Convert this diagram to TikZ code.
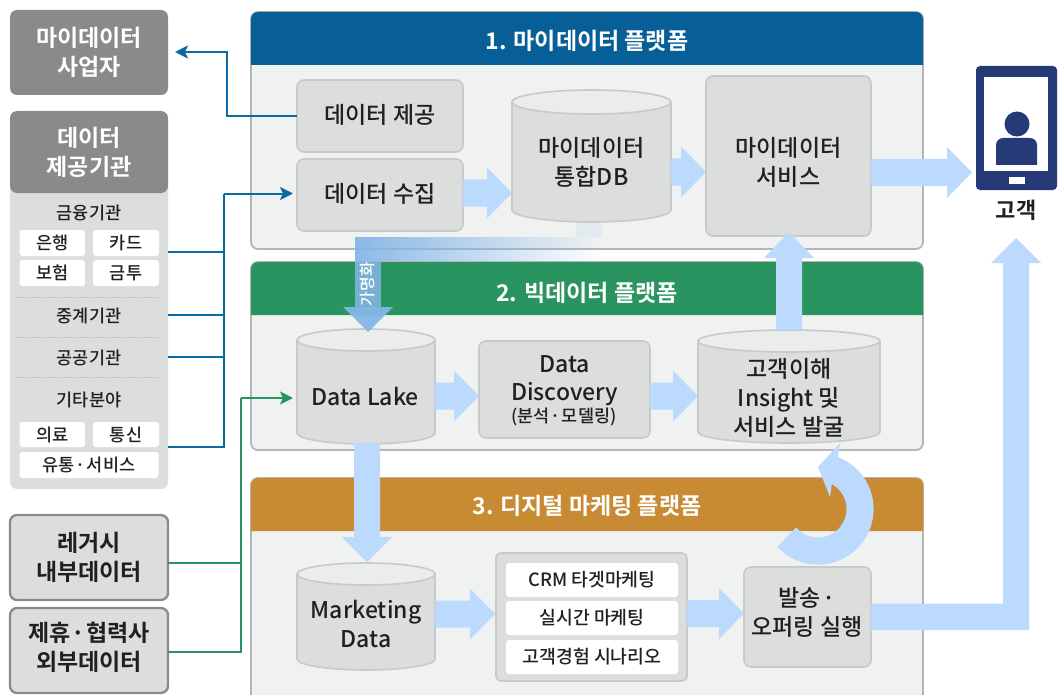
\documentclass[tikz,border=0pt]{standalone}
\usepackage{fontspec}
\setmainfont{Noto Sans CJK KR Medium}
\newfontfamily\kb{Noto Sans CJK KR Bold}
\newfontfamily\km{Noto Sans CJK KR Medium}
\usetikzlibrary{fadings,arrows.meta,calc}
\definecolor{hblue}{HTML}{085E96}
\definecolor{hgreen}{HTML}{2A9461}
\definecolor{hochre}{HTML}{C88B33}
\definecolor{pfill}{HTML}{F0F2F1}
\definecolor{pline}{HTML}{B5B5B5}
\definecolor{ifill}{HTML}{DCDDDD}
\definecolor{iline}{HTML}{C8C9C9}
\definecolor{ctop}{HTML}{EBECEC}
\definecolor{arw}{HTML}{BBDAFE}
\definecolor{gray1}{HTML}{8A8A8A}
\definecolor{navy}{HTML}{263A78}
\definecolor{ink}{HTML}{231F20}
\definecolor{lblue}{HTML}{0B6AA3}
\definecolor{lgreen}{HTML}{2A9461}
\definecolor{pseudo}{HTML}{84B6E6}
\tikzset{
  x=1pt,y=-1pt,
  txt/.style={text=ink,align=center,inner sep=0pt,font=\fontsize{23}{29}\km},
  boldtxt/.style={align=center,inner sep=0pt,font=\fontsize{23}{29}\kb},
  smalltxt/.style={text=ink,align=center,inner sep=0pt,font=\fontsize{17.5}{22}\km},
  chiptxt/.style={fill=white,rounded corners=3pt,text=ink,align=center,inner sep=0pt,font=\fontsize{17.5}{22}\km},
  mchip/.style={chiptxt,font=\fontsize{18.3}{22}\km},
  panel/.style={fill=pfill,draw=pline,line width=1.8pt,rounded corners=7pt},
  inner box/.style={fill=ifill,draw=iline,line width=1.6pt,rounded corners=7pt},
  darkbox/.style={fill=gray1,rounded corners=7pt},
  legbox/.style={fill=ifill,draw=gray1,line width=2.3pt,rounded corners=7pt},
  bigarrow/.style={fill=arw,draw=none},
  link blue/.style={draw=lblue,line width=2pt,-{Stealth[length=13pt,width=13pt,inset=3pt]}},
  link green/.style={draw=lgreen,line width=2pt,-{Stealth[length=13pt,width=13pt,inset=3pt]}},
  plain blue/.style={draw=lblue,line width=2pt},
  plain green/.style={draw=lgreen,line width=2pt},
}
% box by corners: name, x1,y1,x2,y2, style, text
\newcommand{\bx}[7]{\node[#6,anchor=north west,minimum width=#4pt-#2pt,minimum height=#5pt-#3pt,inner sep=0pt,outer sep=0pt,align=center] (#1) at (#2,#3) {#7};}
% cylinder: name, x1,x2,ytop,ybot,ry
\newcommand{\cyl}[6]{%
  \pgfmathsetmacro{\cxm}{(#2+#3)/2}
  \pgfmathsetmacro{\crx}{(#3-#2)/2}
  \pgfmathsetmacro{\ckx}{\crx*0.5523}
  \pgfmathsetmacro{\cky}{#6*0.5523}
  \pgfmathsetmacro{\cyt}{#4+#6}
  \pgfmathsetmacro{\cyb}{#5-#6}
  \path[fill=ifill,draw=iline,line width=1.6pt] (#2,\cyt) -- (#2,\cyb) .. controls (#2,\cyb+\cky) and (\cxm-\ckx,#5) .. (\cxm,#5) .. controls (\cxm+\ckx,#5) and (#3,\cyb+\cky) .. (#3,\cyb) -- (#3,\cyt);
  \path[fill=ctop,draw=iline,line width=1.6pt] (#2,\cyt) .. controls (#2,\cyt-\cky) and (\cxm-\ckx,#4) .. (\cxm,#4) .. controls (\cxm+\ckx,#4) and (#3,\cyt-\cky) .. (#3,\cyt) .. controls (#3,\cyt+\cky) and (\cxm+\ckx,\cyt+#6) .. (\cxm,\cyt+#6) .. controls (\cxm-\ckx,\cyt+#6) and (#2,\cyt+\cky) .. (#2,\cyt) -- cycle;
  \coordinate (#1-w) at (#2,{(#4+#5)/2});
}
% horizontal right-pointing block arrow: x1, x2(tip), yc
\newcommand{\rarrow}[3]{\fill[bigarrow] (#1,#3-13.5) -- (#2-25,#3-13.5) -- (#2-25,#3-25.5) -- (#2,#3) -- (#2-25,#3+25.5) -- (#2-25,#3+13.5) -- (#1,#3+13.5) -- cycle;}
\begin{document}
\begin{tikzpicture}
\useasboundingbox (0,0) rectangle (1059,695);
\clip (0,0) rectangle (1059,695);
\fill[white] (0,0) rectangle (1059,695);

% panels: ytop, yhead, ybot, colour, name, text, ytext
\newcommand{\panelhead}[7]{%
  \draw[panel] (251,#1) rectangle (923,#3);
  \fill[#4] (251,#2) -- (251,#1+7) arc[start angle=180,end angle=90,radius=7pt] -- (916,#1) arc[start angle=90,end angle=0,radius=7pt] -- (923,#2) -- cycle;
  \node[text=white,inner sep=0pt,font=\fontsize{23}{28}\kb] (#5) at (587,#7) {#6};
}
\panelhead{12}{65}{249}{hblue}{t1}{1. 마이데이터 플랫폼}{41}
\panelhead{262}{315}{450}{hgreen}{t2}{2. 빅데이터 플랫폼}{293}
\panelhead{478}{531}{720}{hochre}{t3}{3. 디지털 마케팅 플랫폼}{506}

% fading band (behind the cylinders)
\fill[pseudo,path fading=east,fill opacity=.95] (355,237) -- (602,237) -- (602,261) -- (355,261) -- cycle;
\fill[pseudo,fill opacity=.12] (576,222) rectangle (602,237);
\fill[pseudo,fill opacity=.85] (355,261) rectangle (381,310);

% left column
\bx{biz}{10}{10}{168}{95}{darkbox}{}
\node[boldtxt,text=white] (bizt) at (89,52.5) {마이데이터\\사업자};
\fill[ifill,rounded corners=7pt] (10,150) rectangle (168,489);
\bx{prov}{10}{111}{168}{193}{darkbox}{}
\node[boldtxt,text=white] (provt) at (89,152.5) {데이터\\제공기관};
\node[smalltxt] (fin) at (89,212.5) {금융기관};
\bx{c1}{19.5}{230}{85}{256}{chiptxt}{은행}
\bx{c2}{93}{230}{159}{256}{chiptxt}{카드}
\bx{c3}{19.5}{260}{85}{286}{chiptxt}{보험}
\bx{c4}{93}{260}{159}{286}{chiptxt}{금투}
\draw[pline,line width=.9pt,dash pattern=on 1.6pt off 1.6pt] (17,297) -- (162,297) (17,337) -- (162,337) (17,377) -- (162,377);
\node[smalltxt] (mid) at (89,315.5) {중계기관};
\node[smalltxt] (pub) at (89,357.5) {공공기관};
\node[smalltxt] (etc) at (89,399.5) {기타분야};
\bx{c5}{19.5}{422}{85}{447}{chiptxt}{의료}
\bx{c6}{93}{422}{159}{447}{chiptxt}{통신}
\bx{c7}{19.5}{452}{158.5}{478}{chiptxt}{유통\kern1pt·\kern1pt서비스}
\bx{leg}{10}{515}{168}{600}{legbox}{}
\node[boldtxt,text=ink] (legt) at (89,557) {레거시\\내부데이터};
\bx{ext}{10}{608}{168}{693}{legbox}{}
\node[boldtxt,text=ink] (extt) at (89,647) {제휴\kern1pt·\kern1pt협력사\\외부데이터};

% inner boxes panel 1
\bx{give}{297}{80}{463}{152}{inner box,txt}{}
\node[txt] (givet) at (380,114.5) {데이터 제공};
\bx{coll}{297}{159}{463}{231}{inner box,txt}{}
\node[txt] (collt) at (380,193.5) {데이터 수집};
\bx{svc}{706}{76}{871}{236}{inner box,txt}{}
\node[txt] (svct) at (788.5,162) {마이데이터\\서비스};
\cyl{db}{512}{671}{90}{222}{12}
\node[txt] (dbt) at (591.5,162) {마이데이터\\통합DB};

% inner panel 2
\cyl{lake}{297}{435}{329}{444}{11}
\node[txt] (laket) at (365,396.5) {Data Lake};
\bx{disc}{479}{341}{650}{438}{inner box,txt}{}
\node[txt] (disct) at (564.5,380.5) {Data\\[-1pt]Discovery};
\node[text=ink,inner sep=0pt,font=\fontsize{17.5}{20}\km] (discs) at (564,417) {(분석\kern1pt·\kern1pt모델링)};
\cyl{ins}{698}{880}{330}{443}{11}
\node[txt] (inst) at (789,397.5) {고객이해\\Insight 및\\서비스 발굴};

% inner panel 3
\cyl{mkt}{297}{435}{563}{670}{11}
\node[txt] (mktt) at (366,624) {Marketing\\Data};
\bx{cont}{496}{553}{687}{681}{fill=ifill,draw=iline,line width=1.6pt,rounded corners=5pt}{}
\bx{m1}{506}{563}{678}{597}{mchip}{CRM 타겟마케팅}
\bx{m2}{506}{601}{678}{635}{mchip}{실시간 마케팅}
\bx{m3}{506}{640}{678}{674}{mchip}{고객경험 시나리오}
\bx{send}{744}{567}{871}{667}{inner box,txt}{}
\node[txt] (sendt) at (807,612.5) {발송\kern1pt·\\오퍼링 실행};

% pseudonym arrow head and label
\fill[pseudo,fill opacity=.95] (343,307) -- (393,307) -- (368,332) -- cycle;
\node[text=white,rotate=90,inner sep=0pt,font=\fontsize{16}{18}\selectfont] (pn) at (368,284) {가명화};

% block arrows
\rarrow{463}{512}{193}
\rarrow{671}{706}{172}
\rarrow{871}{972}{172.5}
\rarrow{435}{479}{396}
\rarrow{650}{698}{396}
\rarrow{435}{495}{614}
\rarrow{687}{744}{613.5}
% up arrow
\fill[bigarrow] (776,330) -- (776,258) -- (764,258) -- (789,232) -- (814,258) -- (802,258) -- (802,330) -- cycle;
% down arrow
\fill[bigarrow] (354,443) -- (354,537) -- (342,537) -- (367,562) -- (392,537) -- (380,537) -- (380,443) -- cycle;
% long arrow to customer
\fill[bigarrow] (871,603.5) -- (1003,603.5) -- (1003,263) -- (991,263) -- (1016,238) -- (1041,263) -- (1029,263) -- (1029,630) -- (871,630) -- cycle;
% curved arrow
\fill[bigarrow] plot[domain=223:429,samples=50,smooth] ({818+55.6*cos(\x)},{509-55.6*sin(\x)}) -- (840,443) -- (818,467) -- (830,497) -- (832,483) -- plot[domain=422:220,samples=50,smooth] ({818+28.5*cos(\x)},{509-28.5*sin(\x)}) -- cycle;

% connectors
\coordinate (bluejoin) at (224,193.5);
\draw[link blue,shorten >=7pt] (give.west) -| (227,52) -- (biz.east |- 0,52);
\draw[plain blue] (prov.east |- 0,252) -- (224,252);
\draw[plain blue] (prov.east |- 0,315) -- (224,315);
\draw[plain blue] (prov.east |- 0,357) -- (224,357);
\draw[plain blue,line join=miter] (prov.east |- 0,447) -- (224,447) -- (bluejoin);
\draw[link blue,shorten >=4pt] (bluejoin) -- (coll.west |- bluejoin);
\draw[plain green] (leg.east |- 0,563) -- (241,563);
\draw[plain green] (ext.east |- 0,652) -- (241,652) -- (241,398);
\draw[link green,shorten >=4pt] (241,398) -- (lake-w |- 0,398);

% customer tablet
\fill[navy,rounded corners=4pt] (976,66) rectangle (1057,190);
\fill[white] (984,77) rectangle (1048,171);
\fill[white] (1008.5,177) rectangle (1025,184);
\fill[navy] (1017,124) circle[radius=12.5pt];
\fill[navy,rounded corners=7pt] (996,172) -- (996,138) -- (1037,138) -- (1037,172) -- cycle;
\fill[white] (990,165) rectangle (1045,171);
\node[text=ink,inner sep=0pt,font=\fontsize{22}{25}\kb] (cust) at (1016,210) {고객};
\end{tikzpicture}
\end{document}
